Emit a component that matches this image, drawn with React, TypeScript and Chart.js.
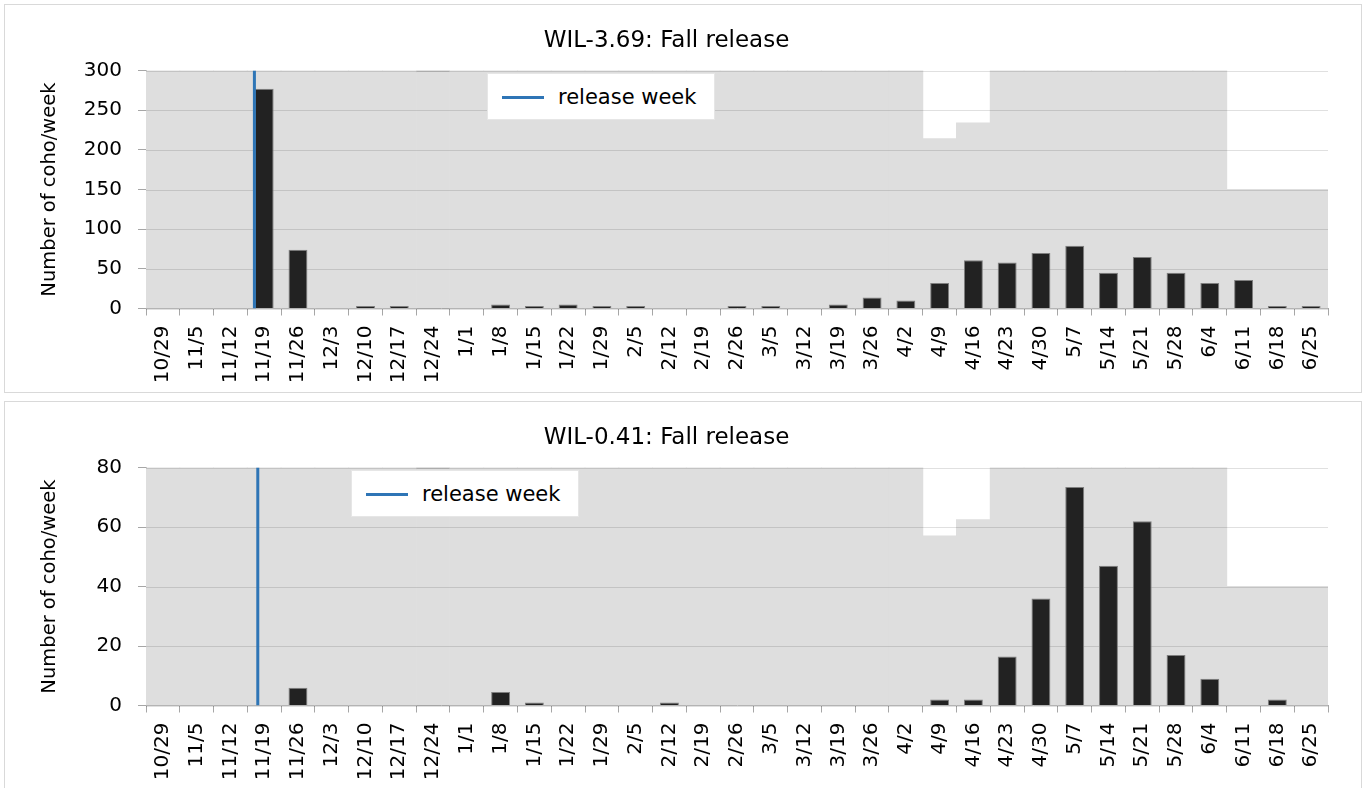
import React, { useEffect, useRef } from 'react';
import { Chart, registerables } from 'chart.js';

Chart.register(...registerables);

const FONT = "'DejaVu Sans', sans-serif";

const weeks = [
  '10/29', '11/5', '11/12', '11/19', '11/26', '12/3', '12/10', '12/17', '12/24',
  '1/1', '1/8', '1/15', '1/22', '1/29', '2/5', '2/12', '2/19', '2/26', '3/5',
  '3/12', '3/19', '3/26', '4/2', '4/9', '4/16', '4/23', '4/30', '5/7', '5/14',
  '5/21', '5/28', '6/4', '6/11', '6/18', '6/25',
];

// WIL-3.69 weekly coho counts
const wil369Counts = [
  0, 0, 0, 277, 74, 0, 3, 3, 0,
  0, 5, 3, 5, 3, 3, 0, 0, 3, 3,
  0, 5, 14, 10, 32, 61, 58, 70, 79, 45,
  65, 45, 32, 36, 3, 3,
];
// WIL-3.69 trap operating (gray background)
const wil369Trap = [
  300, 300, 300, 300, 300, 300, 300, 300, 300,
  300, 300, 300, 300, 300, 300, 300, 300, 300, 300,
  300, 300, 300, 300, 214, 234, 300, 300, 300, 300,
  300, 300, 300, 150, 150, 150,
];

// WIL-0.41 weekly coho counts
const wil041Counts = [
  0, 0, 0, 0, 6, 0, 0, 0, 0,
  0, 4.5, 1, 0, 0, 0, 1, 0, 0, 0,
  0, 0, 0, 0, 2, 2, 16.5, 36, 73.5, 47,
  62, 17, 9, 0, 2, 0,
];
const wil041Trap = [
  80, 80, 80, 80, 80, 80, 80, 80, 80,
  80, 80, 80, 80, 80, 80, 80, 80, 80, 80,
  80, 80, 80, 80, 57, 62.5, 80, 80, 80, 80,
  80, 80, 80, 40, 40, 40,
];

const wil369Release = 3.21;
const wil041Release = 3.31;

const yTitle = 'Number of coho/week';
const legendText = 'release week';

// Draw the horizontal gridlines right after the gray background dataset,
// so they show on the gray but stay behind the black bars.
const gridOverBackground = {
  id: 'gridOverBackground',
  afterDatasetDraw(chart: any, args: any) {
    if (args.index !== 2) return;
    const { ctx, chartArea } = chart;
    const y = chart.scales.y;
    ctx.save();
    ctx.strokeStyle = 'rgba(0,0,0,0.12)';
    ctx.lineWidth = 1;
    for (const t of y.ticks) {
      const py = Math.round(y.getPixelForValue(t.value)) + 0.5;
      ctx.beginPath();
      ctx.moveTo(chartArea.left, py);
      ctx.lineTo(chartArea.right, py);
      ctx.stroke();
    }
    ctx.restore();
  },
};

type PanelProps = {
  title: string;
  counts: number[];
  trap: number[];
  yMax: number;
  yStep: number;
  release: number;
  top: number;
  legendLeft: number;
};

function Panel({ title, counts, trap, yMax, yStep, release, top, legendLeft }: PanelProps) {
  const ref = useRef<HTMLCanvasElement | null>(null);

  useEffect(() => {
    if (!ref.current) return;
    const axisGray = '#a6a6a6';
    const chart = new Chart(ref.current, {
      type: 'bar',
      plugins: [gridOverBackground],
      data: {
        labels: weeks,
        datasets: [
          {
            type: 'line',
            label: legendText,
            data: [
              { x: release, y: 0 },
              { x: release, y: yMax },
            ],
            xAxisID: 'x2',
            yAxisID: 'y',
            borderColor: '#2e75b6',
            borderWidth: 3,
            pointRadius: 0,
            order: 0,
          } as any,
          {
            type: 'bar',
            label: 'coho',
            data: counts,
            xAxisID: 'x',
            yAxisID: 'y',
            backgroundColor: '#222222',
            borderColor: '#7f7f7f',
            borderWidth: 1,
            barPercentage: 0.56,
            categoryPercentage: 1,
            grouped: false,
            order: 1,
          } as any,
          {
            type: 'bar',
            label: 'trap',
            data: trap,
            xAxisID: 'x',
            yAxisID: 'y',
            backgroundColor: '#dedede',
            borderColor: '#c4c4c4',
            borderWidth: (c: any) =>
              c.dataIndex === 8 ? { top: 2, left: 0, right: 0, bottom: 0 } : 0,
            inflateAmount: 0.5,
            barPercentage: 1,
            categoryPercentage: 1,
            grouped: false,
            order: 2,
          } as any,
        ],
      },
      options: {
        responsive: false,
        animation: false,
        events: [],
        layout: { padding: { left: 0, right: 33, top: 0, bottom: 0 } },
        plugins: {
          legend: { display: false },
          tooltip: { enabled: false },
          title: {
            display: true,
            text: title,
            color: '#000',
            font: { family: FONT, size: 23, weight: 'normal' },
            padding: { top: 22, bottom: 16 },
          },
        },
        scales: {
          x: {
            type: 'category',
            offset: true,
            grid: {
              offset: true,
              drawOnChartArea: false,
              drawTicks: true,
              tickLength: 7,
              tickColor: axisGray,
            },
            border: { display: true, color: axisGray, width: 1 },
            ticks: {
              autoSkip: false,
              minRotation: 90,
              maxRotation: 90,
              padding: 10,
              color: '#000',
              font: { family: FONT, size: 20 },
            },
            afterFit: (s: any) => {
              s.height = 83.5;
            },
          },
          x2: {
            type: 'linear',
            display: false,
            offset: false,
            grid: { offset: false },
            min: 0,
            max: weeks.length,
          },
          y: {
            type: 'linear',
            min: 0,
            max: yMax,
            ticks: {
              stepSize: yStep,
              padding: 16,
              color: '#000',
              font: { family: FONT, size: 20 },
            },
            grid: {
              drawOnChartArea: false,
              drawTicks: true,
              tickLength: 8,
              tickColor: axisGray,
            },
            border: { display: true, color: axisGray, width: 1 },
            title: {
              display: true,
              text: yTitle,
              color: '#000',
              font: { family: FONT, size: 19.5 },
              padding: { top: 33, bottom: 0 },
            },
            afterFit: (s: any) => {
              s.width = 141;
            },
          },
        },
      } as any,
    });
    return () => chart.destroy();
  }, [title, counts, trap, yMax, yStep, release]);

  return (
    <div
      style={{
        position: 'absolute',
        left: 4,
        top,
        width: 1358,
        height: 389,
        border: '1px solid #d9d9d9',
        boxSizing: 'border-box',
        background: '#fff',
      }}
    >
      <canvas ref={ref} width={1356} height={387} style={{ display: 'block', width: 1356, height: 387 }} />
      <div
        style={{
          position: 'absolute',
          left: legendLeft,
          top: 68,
          width: 228,
          height: 47,
          background: '#fff',
          border: '1px solid #e6e6e6',
          boxSizing: 'border-box',
          fontFamily: FONT,
          fontSize: 21,
          color: '#000',
        }}
      >
        <div
          style={{
            position: 'absolute',
            left: 14,
            top: 22,
            width: 42,
            height: 3,
            background: '#2e75b6',
          }}
        />
        <div style={{ position: 'absolute', left: 70, top: 10, lineHeight: '26px', whiteSpace: 'nowrap' }}>
          {legendText}
        </div>
      </div>
    </div>
  );
}

export default function App() {
  return (
    <div style={{ position: 'absolute', left: 0, top: 0, width: 1366, height: 788, background: '#fff', overflow: 'hidden' }}>
      <Panel
        title="WIL-3.69: Fall release"
        counts={wil369Counts}
        trap={wil369Trap}
        yMax={300}
        yStep={50}
        release={wil369Release}
        top={4}
        legendLeft={482}
      />
      <Panel
        title="WIL-0.41: Fall release"
        counts={wil041Counts}
        trap={wil041Trap}
        yMax={80}
        yStep={20}
        release={wil041Release}
        top={401}
        legendLeft={346}
      />
    </div>
  );
}
